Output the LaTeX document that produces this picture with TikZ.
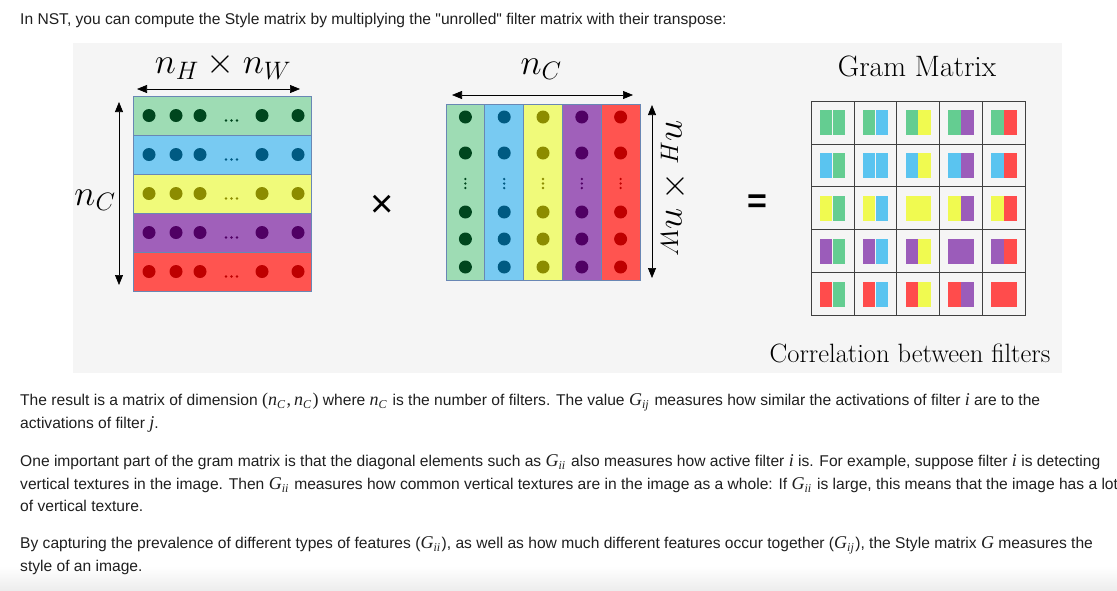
\RequirePackage{fix-cm}
\documentclass[tikz,border=0pt]{standalone}
\usepackage{fontspec}
\setmainfont{Liberation Sans}
\newfontfamily\serifface{Latin Modern Roman}
\newfontfamily\timesface{Liberation Serif}
\font\plainquote="Liberation Sans" at 15.6pt
\usetikzlibrary{arrows.meta, positioning}

% maths inside the running text
\newcommand{\mi}[1]{{\timesface\itshape\fontsize{18}{18}\selectfont #1}}
\newcommand{\ms}[2]{{\timesface\itshape\fontsize{18}{18}\selectfont #1\raisebox{-3.5pt}{\fontsize{12}{12}\selectfont #2}\hspace{1.5pt}}}
\newcommand{\mup}[1]{{\timesface\fontsize{18}{18}\selectfont #1}}
\newcommand{\dq}{{\plainquote"}}

% filter colours (row fill / dot)
\definecolor{gfill}{RGB}{158,220,180}
\definecolor{bfill}{RGB}{120,202,242}
\definecolor{yfill}{RGB}{240,250,122}
\definecolor{pfill}{RGB}{160,96,186}
\definecolor{rfill}{RGB}{255,84,80}
\definecolor{gdot}{RGB}{0,70,30}
\definecolor{bdot}{RGB}{0,90,130}
\definecolor{ydot}{RGB}{140,140,0}
\definecolor{pdot}{RGB}{80,0,100}
\definecolor{rdot}{RGB}{190,0,0}
% gram matrix colours
\definecolor{ggram}{RGB}{100,205,145}
\definecolor{bgram}{RGB}{90,196,240}
\definecolor{ygram}{RGB}{240,250,80}
\definecolor{pgram}{RGB}{155,92,186}
\definecolor{rgram}{RGB}{255,76,76}
\definecolor{edgeblue}{RGB}{105,135,180}
\definecolor{panelgray}{RGB}{245,245,245}

\begin{document}
\begin{tikzpicture}[x=1pt, y=-1pt,
    bodytext/.style={anchor=base west, inner sep=0pt, text=black!88,
                     font=\fontsize{15.6}{18}\selectfont},
    rowbox/.style={draw=edgeblue, line width=0.8pt, minimum width=178pt,
                   minimum height=39pt, inner sep=0pt},
    colbox/.style={draw=edgeblue, line width=0.8pt, minimum width=38.8pt,
                   minimum height=176.7pt, inner sep=0pt},
    blob/.style={circle, inner sep=0pt, minimum size=13pt},
    tinydot/.style={circle, inner sep=0pt, minimum size=2.6pt},
    dimarrow/.style={{Triangle[length=10pt,width=8pt]}-{Triangle[length=10pt,width=8pt]},
                     line width=0.7pt},
    gramcell/.style={draw=black!75, line width=0.8pt, minimum size=42.9pt, inner sep=0pt},
    halfsq/.style={inner sep=0pt, minimum width=12.5pt, minimum height=25pt},
    dimlabel/.style={font=\fontsize{36}{36}\selectfont, inner sep=0pt}
  ]
  \useasboundingbox (0,0) rectangle (1117,590);
  \fill[white] (0,0) rectangle (1117,590);
  \shade[top color=white, bottom color=black!7] (0,566) rectangle (1117,590);
  \fill[panelgray] (72.5,43) rectangle (1062,373);

  % unrolled filter matrix
  \foreach \f/\d [count=\i] in {gfill/gdot,bfill/bdot,yfill/ydot,pfill/pdot,rfill/rdot}{
    \node[rowbox, fill=\f] (row\i) at (222,{76.5+39*\i}) {};
    \foreach \x [count=\k] in {149,176,200,262,298}
      \node[blob, fill=\d] (row\i-\k) at (\x,{76.5+39*\i}) {};
    \foreach \x [count=\m] in {226,231.5,237}
      \node[tinydot, fill=\d] (rowdots\i-\m) at (\x,{81.5+39*\i}) {};
  }

  % its transpose
  \foreach \f/\d [count=\j] in {gfill/gdot,bfill/bdot,yfill/ydot,pfill/pdot,rfill/rdot}{
    \node[colbox, fill=\f] (col\j) at ({426.6+38.8*\j},192.3) {};
    \foreach \y [count=\k] in {117,153,212,239,267}
      \node[blob, fill=\d] (col\j-\k) at ({426.6+38.8*\j},\y) {};
    \foreach \y [count=\m] in {179,183.5,188}
      \node[tinydot, fill=\d] (coldots\j-\m) at ({426.6+38.8*\j},\y) {};
  }

  % gram matrix
  \foreach \rf [count=\i] in {ggram,bgram,ygram,pgram,rgram}{
    \foreach \cf [count=\j] in {ggram,bgram,ygram,pgram,rgram}{
      \node[gramcell] (g\i-\j) at ({789.55+42.9*\j},{79.55+42.9*\i}) {};
      \node[halfsq, fill=\rf, anchor=east] (gl\i-\j) at (g\i-\j.center) {};
      \node[halfsq, fill=\cf, anchor=west] (gr\i-\j) at (g\i-\j.center) {};
    }
  }

  % dimension arrows
  \coordinate (hl) at (137,89);
  \coordinate (hr) at (300,89);
  \coordinate (vt) at (119,102);
  \coordinate (vb) at (119,285);
  \coordinate (tl) at (452,95);
  \coordinate (tr) at (633,95);
  \coordinate (st) at (652,105);
  \coordinate (sb) at (652,278);
  \draw[dimarrow] (hl) -- (hr);
  \draw[dimarrow] (vt) -- (vb);
  \draw[dimarrow] (tl) -- (tr);
  \draw[dimarrow] (st) -- (sb);

  \node[dimlabel] (nhw) at (223,66) {$n_H \times n_W$};
  \node[dimlabel] (ncleft) at (95,200) {$n_C$};
  \node[dimlabel] (ncmid) at (541,69) {$n_C$};
  \node[dimlabel, rotate=-90] (nhwside) at (674,189) {$n_H \times n_W$};
  \node[font=\fontsize{40}{40}\selectfont, inner sep=0pt] (times) at (382,206) {×};
  \node[font=\bfseries\fontsize{34}{34}\selectfont, inner sep=0pt] (equals) at (757,204) {=};
  \node[font=\serifface\fontsize{29.5}{29.5}\selectfont, inner sep=0pt] (gramtitle) at (917,66) {Gram Matrix};
  \node[font=\serifface\fontsize{26.5}{26.5}\selectfont, inner sep=0pt] (corr) at (910,353) {Correlation between filters};

  % surrounding text
  \node[bodytext] (intro) at (20,24) {In NST, you can compute the Style matrix by multiplying the \dq unrolled\dq{} filter matrix with their transpose:};
  \node[bodytext] (pa1) at (20,405) {The result is a matrix of dimension \mup{(}\ms{n}{C}\mup{,\,}\ms{n}{C}\mup{)} where \ms{n}{C} is the number of filters. The value \ms{G}{ij} measures how similar the activations of filter \mi{i} are to the};
  \node[bodytext] (pa2) at (20,428) {activations of filter \mi{j}.};
  \node[bodytext] (pb1) at (20,466) {One important part of the gram matrix is that the diagonal elements such as \ms{G}{ii} also measures how active filter \mi{i} is. For example, suppose filter \mi{i} is detecting};
  \node[bodytext] (pb2) at (20,489) {vertical textures in the image. Then \ms{G}{ii} measures how common vertical textures are in the image as a whole: If \ms{G}{ii} is large, this means that the image has a lot};
  \node[bodytext] (pb3) at (20,511) {of vertical texture.};
  \node[bodytext] (pc1) at (20,548) {By capturing the prevalence of different types of features (\ms{G}{ii}), as well as how much different features occur together (\ms{G}{ij}), the Style matrix \mi{G} measures the};
  \node[bodytext] (pc2) at (20,571) {style of an image.};
\end{tikzpicture}
\end{document}
